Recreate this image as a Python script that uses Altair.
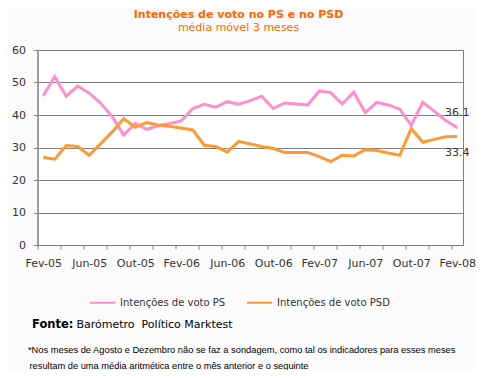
import altair as alt
import pandas as pd

months = ["Fev-05", "Mar-05", "Abr-05", "Mai-05", "Jun-05", "Jul-05", "Ago-05", "Set-05",
          "Out-05", "Nov-05", "Dez-05", "Jan-06", "Fev-06", "Mar-06", "Abr-06", "Mai-06",
          "Jun-06", "Jul-06", "Ago-06", "Set-06", "Out-06", "Nov-06", "Dez-06", "Jan-07",
          "Fev-07", "Mar-07", "Abr-07", "Mai-07", "Jun-07", "Jul-07", "Ago-07", "Set-07",
          "Out-07", "Nov-07", "Dez-07", "Jan-08", "Fev-08"]
ps = [45.9, 51.8, 45.8, 48.9, 46.7, 43.6, 39.5, 33.8, 37.4, 35.6, 36.7, 37.4, 38.2,
      42.0, 43.3, 42.4, 44.1, 43.3, 44.4, 45.8, 42.0, 43.7, 43.4, 43.1, 47.4, 46.9,
      43.4, 47.0, 40.7, 43.9, 43.1, 41.8, 36.8, 43.9, 41.2, 38.3, 36.1]
psd = [27.0, 26.4, 30.6, 30.3, 27.6, 31.2, 34.8, 38.9, 36.2, 37.7, 36.9, 36.5, 36.0,
       35.4, 30.7, 30.3, 28.6, 31.9, 31.1, 30.3, 29.7, 28.5, 28.5, 28.5, 27.2, 25.7,
       27.6, 27.4, 29.4, 29.1, 28.3, 27.6, 35.8, 31.6, 32.5, 33.3, 33.4]
series_names = ["Intenções de voto PS", "Intenções de voto PSD"]
series_colors = ["#FF8FCC", "#FF9933"]
y_ticks = [0, 10, 20, 30, 40, 50, 60]
label_idx = list(range(0, 37, 4))
tick_idx = [k - 0.5 for k in range(0, 37, 2)]

rows = []
for i, m in enumerate(months):
    rows.append({"i": i, "mes": m, "serie": series_names[0], "v": ps[i]})
    rows.append({"i": i, "mes": m, "serie": series_names[1], "v": psd[i]})
df = pd.DataFrame(rows)

FONT = "DejaVu Sans"
label_expr = ("datum.value % 1 == 0 ? " + str(months) + "[datum.value] : ''")

x_scale = alt.Scale(domain=[-0.5, 36.5], nice=False, zero=False)
y_scale = alt.Scale(domain=[0, 60], nice=False)
x_axis = alt.Axis(values=sorted(tick_idx + label_idx), labelExpr=label_expr,
                  title=None, grid=False, labelOverlap=False,
                  tickOpacity={"condition": {"test": "datum.value % 1 != 0", "value": 1}, "value": 0},
                  tickSize=4, tickColor="#808080", domainColor="#808080",
                  labelFont=FONT, labelFontSize=11, labelColor="#333333",
                  labelPadding=8, labelFlush=False)
y_axis = alt.Axis(values=y_ticks, tickCount=7, title=None, grid=True,
                  gridColor="#808080", labelOverlap=False,
                  tickSize=4, tickColor="#808080", domainColor="#808080",
                  labelFont=FONT, labelFontSize=11, labelColor="#333333",
                  labelPadding=8)

x_enc = alt.X("i:Q", scale=x_scale, axis=x_axis)
y_enc = alt.Y("v:Q", scale=y_scale, axis=y_axis)
color_enc = alt.Color("serie:N", scale=alt.Scale(domain=series_names, range=series_colors),
                      legend=alt.Legend(orient="none", legendX=51.5, legendY=239,
                                        direction="horizontal", title=None,
                                        symbolType="stroke", symbolSize=625,
                                        symbolStrokeWidth=2, labelFont=FONT,
                                        labelFontSize=10, labelColor="#333333",
                                        labelOffset=4, columnPadding=17))

lines = alt.Chart(df).mark_line(strokeWidth=3).encode(
    x=x_enc, y=y_enc, color=color_enc, order="i:Q")

last = df[df["i"] == 36]
lab_ps = alt.Chart(last[last["serie"] == series_names[0]]).mark_text(
    font=FONT, fontSize=11, color="#333333", dy=-14.5).encode(
    x=x_enc, y=y_enc, text=alt.Text("v:Q", format=".1f"))
lab_psd = alt.Chart(last[last["serie"] == series_names[1]]).mark_text(
    font=FONT, fontSize=11, color="#333333", dy=17).encode(
    x=x_enc, y=y_enc, text=alt.Text("v:Q", format=".1f"))


def note(txt, x, y, size, weight="normal", align="center", font=FONT, color="#333333"):
    return alt.Chart(pd.DataFrame({"t": [txt]})).mark_text(
        font=font, fontSize=size, fontWeight=weight, align=align, baseline="middle",
        color=color).encode(text="t:N", x=alt.value(x), y=alt.value(y))


title_txt = "Intenções de voto no PS e no PSD"
subtitle_txt = "média móvel 3 meses"
fonte_b = "Fonte:"
fonte_txt = "Barómetro\u00a0 Político Marktest"
foot1 = "*Nos meses de Agosto e Dezembro não se faz a sondagem, como tal os indicadores para esses meses"
foot2 = "resultam de uma média aritmética entre o mês anterior e o seguinte"

notes = [
    note(title_txt, 201, -35.5, 11, "bold", color="#FF6600"),
    note(subtitle_txt, 201, -22.5, 11, color="#FF6600"),
    note(fonte_b, -5.5, 275, 11.5, "bold", align="left", color="#000000"),
    note(fonte_txt, 39, 275, 11, align="left", color="#000000"),
    note(foot1, -9.5, 300, 9.3, align="left", font="Liberation Sans", color="#000000"),
    note(foot2, -8, 316, 9.3, align="left", font="Liberation Sans", color="#000000"),
]

chart = alt.layer(lines, lab_ps, lab_psd, *notes).properties(
    width=425.5, height=195,
    autosize=alt.AutoSizeParams(type="none"),
    padding={"left": 29.5, "top": 42, "right": 14, "bottom": 125},
    background="#FBFBFB",
).configure_view(stroke="#808080", fill="#FFFFFF")

chart.save("out.html", embed_options={"renderer": "svg", "actions": False})
